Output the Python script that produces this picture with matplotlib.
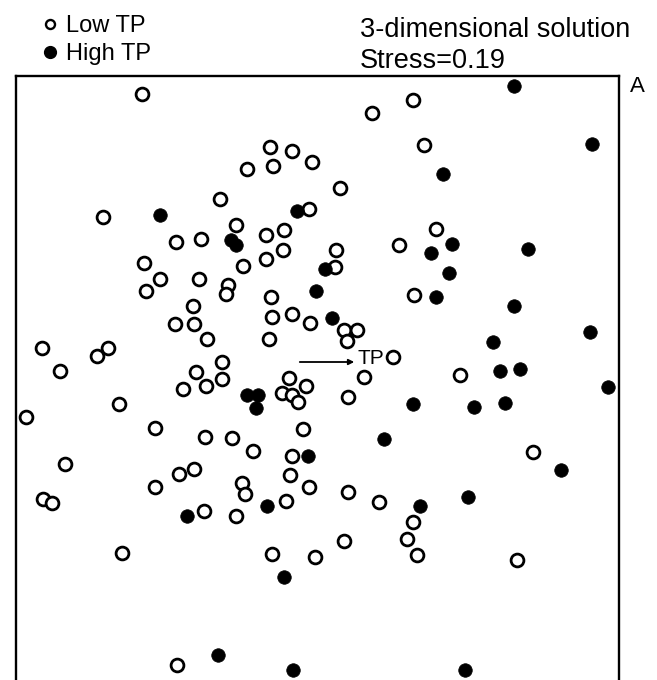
import numpy as np
import matplotlib.pyplot as plt
from matplotlib.lines import Line2D

plt.rcParams['font.family'] = ['Liberation Sans', 'DejaVu Sans']

# ordination scores (axis 1 to the right, axis 2 downward)
low_x = [142, 372, 413, 424, 270, 292, 273, 312, 247, 340, 220, 309, 103, 236,
         176, 201, 266, 284, 283, 266, 243, 336, 335, 399, 436, 144, 160, 146,
         199, 228, 226, 271, 414, 193, 175, 194, 207, 272, 292, 310, 344, 357,
         347, 269, 42, 97, 108, 60, 222, 196, 222, 206, 183, 393, 364, 348, 460,
         289, 306, 282, 292, 298, 119, 26, 155, 205, 232, 253, 303, 292, 533,
         65, 179, 194, 290, 155, 242, 245, 43, 52, 309, 286, 348, 379, 204, 236,
         413, 407, 417, 344, 122, 272, 315, 517, 177]
low_y = [94, 113, 100, 145, 147, 151, 166, 162, 169, 188, 199, 209, 217, 225,
         242, 239, 235, 230, 250, 259, 266, 250, 267, 245, 229, 263, 279, 291,
         279, 285, 294, 297, 295, 306, 324, 324, 339, 317, 314, 323, 330, 330,
         341, 339, 348, 356, 348, 371, 362, 372, 379, 386, 389, 357, 377, 397, 375,
         378, 386, 393, 395, 402, 404, 417, 428, 437, 438, 451, 429, 456, 452,
         464, 474, 469, 475, 487, 483, 494, 499, 503, 487, 501, 492, 502, 511, 516,
         522, 539, 555, 541, 553, 554, 557, 560, 665]

high_x = [514, 592, 443, 160, 297, 231, 236, 528, 452, 431, 325, 449, 316, 436,
          514, 332, 590, 493, 500, 520, 608, 247, 258, 256, 413, 474, 505, 384,
          308, 561, 468, 267, 420, 187, 284, 218, 293, 465]
high_y = [86, 144, 174, 215, 211, 240, 245, 249, 244, 253, 269, 273, 291, 297,
          306, 318, 332, 342, 371, 369, 387, 395, 395, 408, 404, 407, 403, 439,
          456, 470, 497, 506, 506, 516, 577, 655, 670, 670]

# fitted TP vector: origin and tip
tp_origin = (297, 362)
tp_tip = (357, 362)

fig = plt.figure(figsize=(6.57, 6.80), dpi=100)
ax = fig.add_axes([16/657, 0, 603/657, 604/680])

ax.scatter(low_x, low_y, s=85, facecolors='white', edgecolors='black', linewidths=2.0, zorder=3)
ax.scatter(high_x, high_y, s=95, facecolors='black', edgecolors='black', linewidths=0.5, zorder=3)

ax.annotate('', xy=tp_tip, xytext=tp_origin,
            arrowprops=dict(arrowstyle='-|>', color='black', lw=1.3, mutation_scale=8))
ax.text(tp_tip[0] + 1, tp_tip[1] - 3, 'TP', fontsize=15, va='center', ha='left')

ax.set_xlim(16, 619)
ax.set_ylim(680, 76)
ax.set_xticks([])
ax.set_yticks([])
for side in ['left', 'right', 'top']:
    ax.spines[side].set_linewidth(1.7)
ax.spines['bottom'].set_visible(False)

handles = [Line2D([], [], marker='o', ls='', mfc='white', mec='black', mew=1.7, ms=6.5),
           Line2D([], [], marker='o', ls='', mfc='black', mec='black', ms=8.5)]
fig.legend(handles, ['Low TP', 'High TP'], loc='upper left', bbox_to_anchor=(38/657, 1 - 15/680),
           frameon=False, fontsize=17, handletextpad=0.19, labelspacing=0.25, handlelength=1.0,
           borderpad=0, borderaxespad=0)

fig.text(360/657, 1 - 37/680, '3-dimensional solution', fontsize=19.5, va='baseline', ha='left')
fig.text(360/657, 1 - 68/680, 'Stress=0.19', fontsize=19.5, va='baseline', ha='left')
fig.text(630/657, 1 - 92/680, 'A', fontsize=16, va='baseline', ha='left')

fig.savefig('out.png', dpi=100)
